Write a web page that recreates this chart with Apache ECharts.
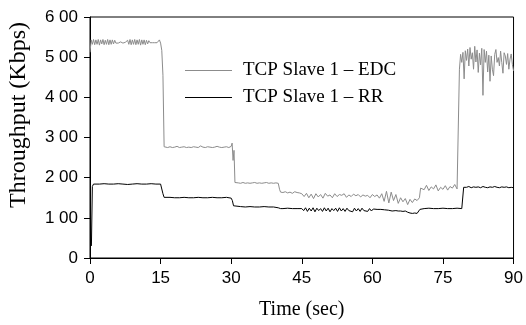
<!DOCTYPE html>
<html>
<head>
<meta charset="utf-8">
<script src="https://cdn.jsdelivr.net/npm/echarts@6/dist/echarts.min.js"></script>
<style>
html,body{margin:0;padding:0;background:#fff;}
#chart{width:526px;height:325px;}
</style>
</head>
<body>
<div id="chart"></div>
<script>
// ---- data ----
const xTicks = [0, 15, 30, 45, 60, 75, 90];
const yTickLabels = ['0', '1 00', '2 00', '3 00', '4 00', '5 00', '6 00'];
const seriesNames = ['TCP Slave 1 \u2013 EDC', 'TCP Slave 1 \u2013 RR'];

const edcTime = [
  0,0.25,0.5,0.75,1,1.25,1.5,1.75,
  2,2.25,2.5,2.75,3,3.25,3.5,3.75,
  4,4.25,4.5,4.75,5,5.25,5.5,5.75,
  6,6.25,6.5,6.75,7,7.25,7.5,7.75,
  8,8.25,8.5,8.75,9,9.25,9.5,9.75,
  10,10.25,10.5,10.75,11,11.25,11.5,11.75,
  12,12.25,12.5,12.75,13,13.25,13.5,13.75,
  14,14.25,14.5,14.75,15,15.25,
  15.5,15.75,16,16.5,17,17.5,18,18.5,
  19,19.5,20,20.5,21,21.5,22,22.5,
  23,23.5,24,24.5,25,25.5,26,26.5,
  27,27.5,28,28.5,29,29.5,30,30.2,
  30.4,30.6,30.8,
  31,31.5,32,32.5,33,33.5,34,34.5,
  35,35.5,36,36.5,37,37.5,38,38.5,
  39,39.5,40,40.3,
  40.5,41,41.5,42,42.5,43,43.5,44,
  44.5,45,45.5,46,46.5,47,47.5,48,
  48.5,49,49.5,50,50.5,51,51.5,52,
  52.5,53,53.5,54,54.5,55,55.5,56,
  56.5,57,57.5,58,58.5,59,59.5,60,
  60.5,61,61.5,62,62.5,63,63.5,64,
  64.5,65,65.5,66,66.5,67,67.5,68,
  68.5,69,69.5,70,
  70.25,70.5,71,71.5,72,72.5,73,73.5,
  74,74.5,75,75.5,76,76.5,77,77.5,
  78,78.25,
  78.5,78.75,79,79.25,79.5,79.75,80,80.25,
  80.5,80.75,81,81.25,81.5,81.75,82,82.25,
  82.5,82.75,83,83.25,83.5,83.75,84,84.25,
  84.5,84.75,85,85.25,85.5,85.75,86,86.25,
  86.5,86.75,87,87.25,87.5,87.75,88,88.25,
  88.5,88.75,89,89.25,89.5,89.75,90
];
const edcValue = [
  512,543,532,544,531,543,532,544,
  530,543,533,544,531,542,532,544,
  531,543,532,543,533,542,535,537,
  535,536,538,536,535,539,537,536,
  542,532,544,531,543,532,544,531,
  543,532,544,530,543,532,543,531,
  542,533,541,536,537,536,537,536,
  537,536,537,543,535,517,
  455,277,276,275,277,275,276,278,
  275,276,277,275,276,275,277,276,
  275,279,276,275,277,276,275,276,
  278,276,275,276,277,275,278,286,
  243,268,188,
  186,187,186,188,186,187,186,187,
  188,186,187,186,187,188,186,187,
  186,187,186,170,
  164,163,165,162,164,161,165,163,
  162,160,153,161,150,159,148,160,
  152,158,149,161,154,157,150,160,
  153,158,156,160,151,157,153,159,
  155,158,152,157,154,156,150,158,
  153,157,149,160,141,166,137,164,
  143,158,136,150,140,148,133,146,
  138,147,143,150,
  174,178,170,181,168,177,172,182,
  167,176,171,180,169,178,174,183,
  172,176,
  470,507,487,512,446,516,492,520,
  478,524,495,511,470,527,488,518,
  462,510,481,522,405,519,487,515,
  463,505,440,503,470,454,507,519,
  487,499,478,515,487,460,511,503,
  482,509,470,495,508,482,466
];

const rrTime = [
  0.3,0.5,0.75,1,2,3,4,5,
  6,7,8,9,10,11,12,13,
  14,15,15.25,15.5,15.75,16,17,18,
  19,20,21,22,23,24,25,26,
  27,28,29,30,30.25,30.5,30.75,32,
  33,34,35,36,37,38,39,40,
  40.5,41,42,43,44,45,
  45.4,45.8,46.2,46.6,47,
  47.4,47.8,48.2,48.6,49,
  49.4,49.8,50.2,50.6,51,
  51.4,51.8,52.2,52.6,53,
  53.4,53.8,54.2,54.6,55,
  55.4,55.8,56.2,56.6,57,
  57.4,57.8,58.2,58.6,59,
  59.4,59.8,60.2,60.6,61,
  61.4,61.8,62.2,62.6,63,
  63.4,63.8,64.2,
  64.6,65,65.5,66,66.5,67,67.5,68,
  68.5,69,69.5,69.8,70.1,70.4,
  71,72,73,74,75,76,77,78,
  79,79.2,79.4,79.6,80,80.5,81,81.5,
  82,82.5,83,83.5,84,84.5,85,85.5,
  86,86.5,87,87.5,88,88.5,89,89.5,
  90
];
const rrValue = [
  30,178,184,185,184,185,184,184,
  185,184,183,184,185,184,184,185,
  184,184,180,160,151,150,151,150,
  150,151,150,150,151,150,150,151,
  150,150,151,149,143,130,127,128,
  127,128,127,127,128,127,127,125,
  123,123,124,123,123,123,
  118,125,116,124,117,
  125,115,124,118,123,
  116,125,117,124,115,
  123,118,124,116,125,
  117,123,116,124,118,
  122,115,124,117,123,
  116,124,118,122,116,
  123,117,122,118,121,
  117,121,118,120,117,
  119,118,117,
  117,118,117,117,116,117,114,112,
  111,112,111,113,121,123,
  123,124,123,123,124,123,123,124,
  123,124,176,177,176,178,175,177,
  176,177,175,178,176,175,177,176,
  178,176,175,177,176,177,175,176,
  175
];

function zip(t, v) {
  const n = Math.min(t.length, v.length);
  const out = [];
  for (let i = 0; i < n; i++) out.push([t[i], v[i]]);
  return out;
}

const edcColor = '#8c8c8c';
const rrColor = '#000';

const chart = echarts.init(document.getElementById('chart'), null, {renderer: 'canvas'});
const tickFont = {fontFamily: 'Liberation Sans', fontSize: 17, color: '#000'};
chart.setOption({
  animation: false,
  backgroundColor: '#fff',
  grid: {left: 90, right: 9, top: 17, bottom: 63, show: true, borderColor: '#000', borderWidth: 1, backgroundColor: 'transparent'},
  legend: {
    orient: 'vertical',
    left: 180, top: 55.5,
    icon: 'rect',
    itemWidth: 47, itemHeight: 1, itemGap: 7,
    data: seriesNames,
    textStyle: {fontFamily: 'Liberation Serif', fontSize: 19, color: '#000', lineHeight: 20, padding: [0, 0, 0, 6]}
  },
  xAxis: {
    type: 'value', min: xTicks[0], max: xTicks[xTicks.length - 1], interval: xTicks[1] - xTicks[0],
    name: 'Time (sec)', nameLocation: 'middle', nameGap: 42,
    nameTextStyle: {fontFamily: 'Liberation Serif', fontSize: 20, color: '#000'},
    axisLine: {show: true, lineStyle: {color: '#000', width: 1}},
    axisTick: {show: true, inside: false, length: 6, lineStyle: {color: '#000'}},
    axisLabel: Object.assign({margin: 12}, tickFont),
    splitLine: {show: false}
  },
  yAxis: {
    type: 'value', min: 0, max: 600, interval: 100,
    axisLine: {show: true, lineStyle: {color: '#000', width: 1}},
    axisTick: {show: true, inside: false, length: 6, lineStyle: {color: '#000'}},
    axisLabel: Object.assign({margin: 12, formatter: function (v) { return yTickLabels[Math.round(v / 100)]; }}, tickFont),
    splitLine: {show: false}
  },
  graphic: [{
    type: 'text', x: 19, y: 115, rotation: Math.PI / 2,
    style: {text: 'Throughput (Kbps)', fontFamily: 'Liberation Serif', fontSize: 24, fill: '#000', align: 'center', verticalAlign: 'middle'}
  }],
  series: [
    {name: seriesNames[0], type: 'line', data: zip(edcTime, edcValue), symbol: 'none', showSymbol: false,
     lineStyle: {color: edcColor, width: 1}, itemStyle: {color: edcColor}, z: 2},
    {name: seriesNames[1], type: 'line', data: zip(rrTime, rrValue), symbol: 'none', showSymbol: false,
     lineStyle: {color: rrColor, width: 1}, itemStyle: {color: rrColor}, z: 3}
  ]
});
</script>
</body>
</html>
